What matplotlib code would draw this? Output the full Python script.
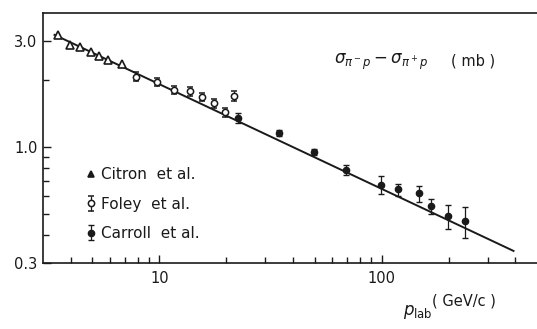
import matplotlib
matplotlib.use('Agg')
import matplotlib.pyplot as plt
from matplotlib.ticker import NullFormatter

# Citron et al. (open triangles)
citron_p = [3.52, 3.95, 4.38, 4.91, 5.38, 5.90, 6.82]
citron_ds = [3.19, 2.88, 2.82, 2.68, 2.57, 2.47, 2.37]

# Foley et al. (open circles)
foley_p = [7.9, 9.8, 11.7, 13.8, 15.6, 17.7, 19.8, 21.7]
foley_ds = [2.07, 1.95, 1.80, 1.78, 1.67, 1.57, 1.43, 1.69]
foley_err = [0.09, 0.08, 0.08, 0.08, 0.07, 0.07, 0.07, 0.09]

# Carroll et al. (filled circles)
carroll_p = [22.6, 34.5, 49.5, 69, 99, 118, 148, 167, 198, 236]
carroll_ds = [1.35, 1.155, 0.95, 0.79, 0.676, 0.643, 0.617, 0.54, 0.487, 0.463]
carroll_err = [0.07, 0.04, 0.03, 0.04, 0.065, 0.04, 0.05, 0.04, 0.06, 0.075]

# power-law fit line end points
fit_p = [3.38, 392]
fit_ds = [3.19, 0.34]

ink = '#1a1a1a'
plt.rcParams['font.family'] = ['DejaVu Sans']

fig = plt.figure(figsize=(5.37, 3.29), dpi=100)
ax = fig.add_axes([43/537, 1-263/329, 1-43/537, 250/329])

ax.plot(fit_p, fit_ds, color=ink, lw=1.4, zorder=2)
h1, = ax.plot(citron_p, citron_ds, ls='none', marker='^', ms=5.5, mfc='white',
              mec=ink, mew=1.2, zorder=3, label='Citron  et al.')
h2 = ax.errorbar(foley_p, foley_ds, yerr=foley_err, fmt='o', ms=4.5, mfc='white',
                 mec=ink, mew=1.1, ecolor=ink, elinewidth=0.9, capsize=2,
                 zorder=3, label='Foley  et al.')
h3 = ax.errorbar(carroll_p, carroll_ds, yerr=carroll_err, fmt='o', ms=4.5, mfc=ink,
                 mec=ink, ecolor=ink, elinewidth=0.9, capsize=2.5,
                 zorder=3, label='Carroll  et al.')

ax.set_xscale('log')
ax.set_yscale('log')
ax.set_xlim(3, 500)
ax.set_ylim(0.3, 4.0)

ax.set_xticks([10, 100])
ax.set_xticklabels(['10', '100'])
ax.set_xticks([4, 5, 6, 7, 8, 9, 20, 30, 40, 50, 60, 70, 80, 90, 200, 300, 400], minor=True)
ax.xaxis.set_minor_formatter(NullFormatter())
ax.set_yticks([0.3, 1.0, 3.0])
ax.set_yticklabels(['0.3', '1.0', '3.0'])
ax.set_yticks([0.4, 0.5, 0.6, 0.7, 0.8, 0.9, 2.0], minor=True)
ax.yaxis.set_minor_formatter(NullFormatter())

ax.tick_params(which='both', direction='in', colors=ink, labelsize=10.5, width=1)
ax.tick_params(which='major', length=6)
ax.tick_params(which='minor', length=4)
ax.tick_params(axis='x', pad=6)
ax.tick_params(axis='y', pad=4)
ax.spines['right'].set_visible(False)
for s in ['left', 'top', 'bottom']:
    ax.spines[s].set_color(ink)
    ax.spines[s].set_linewidth(1.2)

ax.text(0.59, 0.804, r'$\sigma_{\pi^-p} - \sigma_{\pi^+p}$', transform=ax.transAxes,
        fontsize=12, va='center', ha='left', color=ink)
ax.text(0.825, 0.81, '( mb )', transform=ax.transAxes, fontsize=10.5,
        va='center', ha='left', color=ink)

leg = ax.legend(handles=[h1, h2, h3], loc='center left', bbox_to_anchor=(0.075, 0.236),
                frameon=False, handlelength=0.6, handletextpad=0.4, labelspacing=0.95,
                fontsize=11, borderaxespad=0)
leg.legend_handles[0].set_markerfacecolor(ink)
leg.legend_handles[0].set_markersize(4.5)
for t in leg.get_texts():
    t.set_color(ink)

fig.text(403/537, 1-312/329, r'$p_{\rm lab}$', fontsize=12, ha='left', va='center', color=ink)
fig.text(432/537, 1-301/329, '( GeV/c )', fontsize=10.5, ha='left', va='center', color=ink)

fig.savefig('out.png', dpi=100)
